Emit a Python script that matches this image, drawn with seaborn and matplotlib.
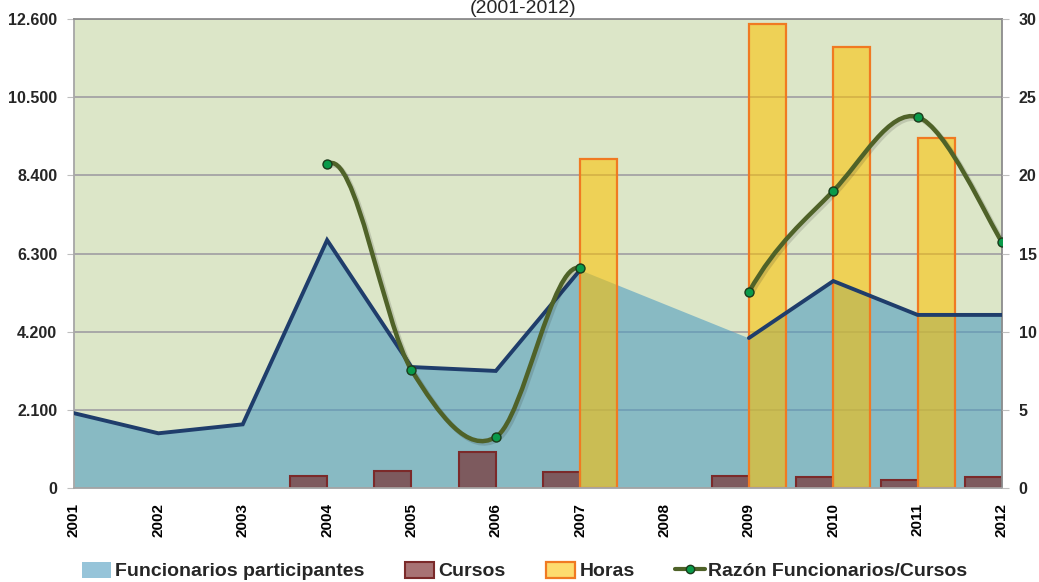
import numpy as np
import pandas as pd
import matplotlib
matplotlib.use("Agg")
import matplotlib.pyplot as plt
import matplotlib.patheffects as pe
from matplotlib.path import Path
from matplotlib.patches import PathPatch, Patch
from matplotlib.lines import Line2D
from matplotlib.ticker import FuncFormatter
import seaborn as sns

# ---------------- data ----------------
years = ["2001", "2002", "2003", "2004", "2005", "2006", "2007", "2008",
         "2009", "2010", "2011", "2012"]
funcionarios = [2010, 1470, 1710, 6660, 3250, 3145, 5860, np.nan,
                4030, 5560, 4650, 4650]
cursos = [np.nan, np.nan, np.nan, 325, 445, 970, 425, np.nan,
          325, 305, 210, 305]
horas = [np.nan, np.nan, np.nan, np.nan, np.nan, np.nan, 8830, np.nan,
         12470, 11850, 9400, np.nan]
razon = [np.nan, np.nan, np.nan, 20.7, 7.55, 3.26, 14.07, np.nan,
         12.54, 19.0, 23.73, 15.74]

left_ticks = [0, 2100, 4200, 6300, 8400, 10500, 12600]
right_ticks = [0, 5, 10, 15, 20, 25, 30]
title = "(2001-2012)"

df = pd.DataFrame({"year": years, "funcionarios": funcionarios,
                   "cursos": cursos, "horas": horas, "razon": razon})
df["pos"] = np.arange(len(df))

# ---------------- style ----------------
sns.set_theme(style="white")
plt.rcParams["font.family"] = ["Liberation Sans", "DejaVu Sans"]

BG = "#DCE6C8"
AREA = (80 / 255, 157 / 255, 193 / 255)
AREA_ALPHA = 0.6
NAVY = "#1F3D6B"
CURSOS_FACE = (119 / 255, 36 / 255, 38 / 255, 0.64)
CURSOS_EDGE = "#7B2A2A"
HORAS_FACE = (253 / 255, 193 / 255, 0, 0.57)
HORAS_EDGE = "#F07A22"
OLIVE = "#4F6228"
MARKER = "#0A9A4A"
GRID = "#A8A8A8"
AXIS_GREY = "#8C8C8C"

fig = plt.figure(figsize=(10.39, 5.82), dpi=100)
ax = fig.add_axes([74 / 1039, 1 - 488 / 582, (1002 - 74) / 1039, (488 - 19) / 582])
ax.set_facecolor(BG)
ax.set_axisbelow(True)

# area: Funcionarios participantes (missing year bridged)
valid = df.dropna(subset=["funcionarios"])
ax.fill_between(valid["pos"], 0, valid["funcionarios"], color=AREA,
                alpha=AREA_ALPHA, linewidth=0, zorder=1)

# bars
bw = 0.44
ax.bar(df["pos"], df["cursos"], width=-bw, align="edge", color=CURSOS_FACE,
       edgecolor=CURSOS_EDGE, linewidth=1.5, zorder=2)
ax.bar(df["pos"], df["horas"], width=bw, align="edge", color=HORAS_FACE,
       edgecolor=HORAS_EDGE, linewidth=1.6, zorder=2)

# navy line on top of area (gap at missing year)
ax.plot(df["pos"], df["funcionarios"], color=NAVY, linewidth=2.8,
        solid_joinstyle="miter", zorder=3)

ax.set_xlim(0, len(years) - 1)
ax.set_ylim(0, 12600)
ax.set_yticks(left_ticks)
ax.yaxis.set_major_formatter(FuncFormatter(lambda v, p: f"{int(v):,}".replace(",", ".")))
ax.set_xticks(df["pos"])
ax.set_xticklabels(years, rotation=90, fontweight="bold", fontsize=11)
ax.grid(axis="y", color=GRID, linewidth=1.4)
ax.grid(axis="x", visible=False)
ax.tick_params(axis="x", length=0, pad=11, colors="black")
ax.tick_params(axis="y", length=5, width=0.8, color="#BFBFBF", pad=7,
               labelsize=11.5)
for lab in ax.get_yticklabels():
    lab.set_fontweight("bold")
for side, sp in ax.spines.items():
    sp.set_visible(True)
    sp.set_color(AXIS_GREY if side in ("top", "right") else "#A6A6A6")
    sp.set_linewidth(1.3)

# ---------------- right axis: Razón (smoothed like the original) ----------------
ax2 = ax.twinx()
ax2.set_ylim(0, 30)
ax2.set_yticks(right_ticks)
ax2.patch.set_visible(False)
for sp in ax2.spines.values():
    sp.set_visible(False)
ax2.tick_params(axis="y", length=5, width=0.8, color="#BFBFBF", pad=7,
                labelsize=11.5)
for lab in ax2.get_yticklabels():
    lab.set_fontweight("bold")
ax2.grid(False)


def smooth_path(xv, yv):
    """Bezier smoothing between consecutive valid points (rendering only)."""
    verts, codes = [], []
    n = len(xv)
    i = 0
    while i < n:
        if np.isnan(yv[i]):
            i += 1
            continue
        j = i
        while j + 1 < n and not np.isnan(yv[j + 1]):
            j += 1
        pts = [np.array([xv[k], yv[k]]) for k in range(i, j + 1)]
        # neighbour anchors: adjacent empty category sits on the baseline
        prev = np.array([xv[i - 1], 0.0]) if i > 0 else pts[0]
        nxt = np.array([xv[j + 1], 0.0]) if j + 1 < n else pts[-1]
        ext = [prev] + pts + [nxt]
        verts.append(pts[0]); codes.append(Path.MOVETO)
        for s in range(1, len(ext) - 2):
            p0, p1, p2, p3 = ext[s - 1], ext[s], ext[s + 1], ext[s + 2]
            c1 = p1 + (p2 - p0) / 6.0
            c2 = p2 - (p3 - p1) / 6.0
            verts += [c1, c2, p2]
            codes += [Path.CURVE4] * 3
        i = j + 1
    return Path(verts, codes)


curve = PathPatch(smooth_path(df["pos"].to_numpy(float), df["razon"].to_numpy(float)),
                  facecolor="none", edgecolor=OLIVE, linewidth=3.2, zorder=4,
                  capstyle="round", joinstyle="round")
curve.set_path_effects([pe.SimpleLineShadow(offset=(1.5, -1.5), shadow_color="k",
                                            alpha=0.15, linewidth=3.6),
                        pe.Normal()])
ax2.add_patch(curve)
sns.scatterplot(data=df.dropna(subset=["razon"]), x="pos", y="razon", ax=ax2,
                color=MARKER, edgecolor="#1B3A1B", linewidth=1.0, s=42,
                zorder=5, legend=False)
ax2.set_xlabel("")
ax2.set_ylabel("")
ax.set_xlabel("")
ax.set_ylabel("")
ax2.set_xlim(0, len(years) - 1)

# ---------------- title ----------------
fig.text(0.503, 1 - 13 / 582, title, ha="center", va="baseline", fontsize=14)

# ---------------- legend ----------------
handles = [
    Patch(facecolor=AREA, alpha=AREA_ALPHA, edgecolor="none"),
    Patch(facecolor=CURSOS_FACE, edgecolor=CURSOS_EDGE, linewidth=1.5),
    Patch(facecolor=HORAS_FACE, edgecolor=HORAS_EDGE, linewidth=1.6),
    Line2D([0], [0], color=OLIVE, linewidth=3, marker="o", markersize=6,
           markerfacecolor=MARKER, markeredgecolor="#1B3A1B"),
]
labels = ["Funcionarios participantes", "Cursos", "Horas",
          "Razón Funcionarios/Cursos"]
fig.legend(handles, labels, loc="center", bbox_to_anchor=(0.505, 1 - 571 / 582),
           ncol=4, frameon=False, prop={"weight": "bold", "size": 14},
           handlelength=1.5, handleheight=0.9, handletextpad=0.2,
           columnspacing=2.1, borderaxespad=0)

fig.savefig("out.png", dpi=100, facecolor="white")
